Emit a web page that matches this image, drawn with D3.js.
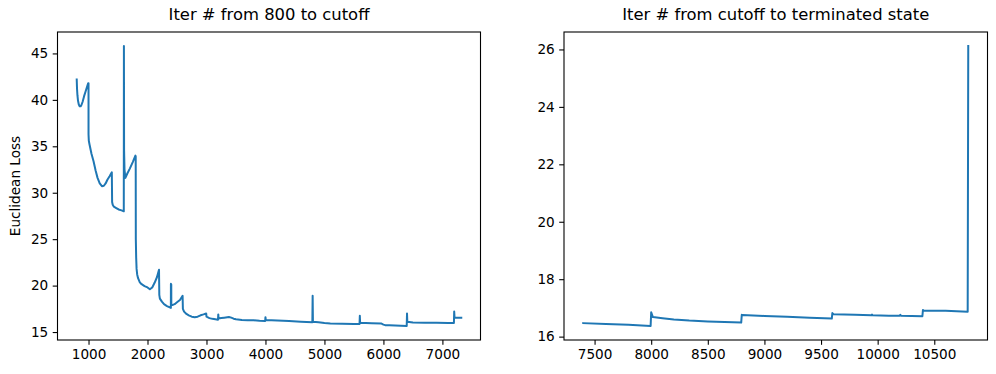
<!DOCTYPE html>
<html>
<head>
<meta charset="utf-8">
<script src="https://cdn.jsdelivr.net/npm/d3@7"></script>
<style>
  html, body { margin: 0; padding: 0; background: #fff; }
  svg { display: block; }
  text { font-family: "DejaVu Sans", sans-serif; fill: #000; }
</style>
</head>
<body>
<svg id="chart" width="996" height="374"></svg>
<script>
// ---------- DATA ----------
const titleLeft = "Iter # from 800 to cutoff";
const titleRight = "Iter # from cutoff to terminated state";
const yLabelLeft = "Euclidean Loss";

const iterLeft = [800, 805, 812, 822, 835, 850, 865, 880, 900, 925, 950, 975, 995, 1000,
  1000, 1005, 1017, 1050, 1085, 1120, 1153, 1190, 1227, 1260, 1290, 1320, 1360, 1395,
  1400, 1410, 1430, 1470, 1510, 1560, 1598,
  1600, 1603, 1610, 1625, 1660, 1700, 1750, 1795,
  1800, 1802, 1808, 1815, 1825, 1840, 1870, 1900, 1950, 2000, 2040, 2080, 2120, 2160, 2195,
  2200, 2210, 2244, 2280, 2330, 2396, 2397, 2403, 2404, 2420, 2460, 2500, 2550, 2595,
  2600, 2620, 2660, 2700, 2750, 2800, 2850, 2900, 2950, 2995,
  3000, 3050, 3100, 3150, 3195, 3200, 3205, 3250, 3300, 3380, 3420, 3460, 3500, 3600, 3700, 3800, 3900, 3995,
  4000, 4005, 4200, 4400, 4600, 4795, 4800, 4805, 4900, 5000, 5100, 5300, 5500, 5595,
  5600, 5605, 5700, 5800, 5960, 6000, 6030, 6100, 6200, 6395,
  6400, 6405, 6500, 6700, 6900, 7100, 7195, 7200, 7205, 7220, 7320];
const lossLeft = [42.2, 41.2, 40.5, 39.9, 39.5, 39.3, 39.3, 39.45, 39.8, 40.4, 40.9, 41.4, 41.8, 41.8,
  36.3, 35.6, 35.2, 34.2, 33.4, 32.4, 31.6, 31.0, 30.7, 30.75, 31.0, 31.4, 31.8, 32.2,
  29.0, 28.7, 28.5, 28.35, 28.2, 28.1, 28.0,
  45.8, 34.6, 32.5, 31.6, 32.1, 32.6, 33.3, 34.0,
  33.9, 25.0, 23.0, 21.8, 21.2, 20.8, 20.35, 20.15, 19.95, 19.8, 19.6, 19.8, 20.3, 20.9, 21.7,
  19.0, 18.6, 18.27, 18.0, 17.8, 17.6, 20.2, 20.1, 17.9, 17.9, 18.0, 18.2, 18.45, 18.9,
  17.5, 17.2, 16.95, 16.8, 16.65, 16.6, 16.65, 16.8, 16.9, 17.0,
  16.65, 16.5, 16.42, 16.37, 16.33, 16.9, 16.45, 16.5, 16.55, 16.62, 16.55, 16.44, 16.38, 16.3, 16.28, 16.27, 16.22, 16.19,
  16.6, 16.3, 16.25, 16.18, 16.12, 16.06, 18.9, 16.1, 16.05, 15.97, 15.93, 15.9, 15.87, 15.86,
  16.75, 16.0, 15.97, 15.95, 15.93, 15.8, 15.74, 15.72, 15.7, 15.65,
  17.0, 16.1, 16.02, 16.0, 15.99, 15.98, 15.97, 17.2, 16.6, 16.55, 16.54];

const iterRight = [7400, 7600, 7800, 7995, 8000, 8015, 8100, 8200, 8336, 8500, 8795,
  8800, 8805, 9000, 9200, 9400, 9595, 9600, 9610, 9800, 9945, 9950, 9955, 10100, 10195, 10200, 10205, 10395,
  10400, 10405, 10600, 10795, 10800];
const lossRight = [16.47, 16.44, 16.41, 16.37, 16.85, 16.68, 16.64, 16.6, 16.56, 16.53, 16.49,
  16.76, 16.75, 16.72, 16.69, 16.66, 16.63, 16.82, 16.78, 16.76, 16.74, 16.77, 16.74, 16.73, 16.73, 16.76, 16.73, 16.71,
  16.93, 16.91, 16.9, 16.87, 26.12];

const xTicksLeft = [1000, 2000, 3000, 4000, 5000, 6000, 7000];
const yTicksLeft = [15, 20, 25, 30, 35, 40, 45];
const xTicksRight = [7500, 8000, 8500, 9000, 9500, 10000, 10500];
const yTicksRight = [16, 18, 20, 22, 24, 26];

// ---------- DRAW ----------
const svg = d3.select("#chart");
const lineColor = "#1f77b4";
const tickFont = 13.6;

function padDomain(ext) {
  const r = ext[1] - ext[0];
  return [ext[0] - 0.05 * r, ext[1] + 0.05 * r];
}

function panel(box, xs, ys, xTicks, yTicks, title, ylabel) {
  const x = d3.scaleLinear().domain(padDomain(d3.extent(xs))).range([box.x0, box.x1]);
  const y = d3.scaleLinear().domain(padDomain(d3.extent(ys))).range([box.y1, box.y0]);
  const g = svg.append("g");

  const pts = xs.map((d, i) => [d, ys[i]]);
  g.append("path")
    .datum(pts)
    .attr("fill", "none")
    .attr("stroke", lineColor)
    .attr("stroke-width", 2)
    .attr("stroke-linejoin", "round")
    .attr("stroke-linecap", "square")
    .attr("d", d3.line().x(d => x(d[0])).y(d => y(d[1])));

  const xAxis = g.append("g")
    .attr("transform", `translate(0,${box.y1})`)
    .call(d3.axisBottom(x).tickValues(xTicks).tickFormat(d3.format("d")).tickSize(4.8).tickPadding(4.5));
  const yAxis = g.append("g")
    .attr("transform", `translate(${box.x0},0)`)
    .call(d3.axisLeft(y).tickValues(yTicks).tickFormat(d3.format("d")).tickSize(4.8).tickPadding(4.5));
  [xAxis, yAxis].forEach(a => {
    a.select(".domain").remove();
    a.selectAll("line").attr("stroke", "#000").attr("stroke-width", 1.1);
    a.selectAll("text").attr("font-size", tickFont).attr("font-family", "DejaVu Sans, sans-serif").attr("fill", "#000");
  });

  g.append("rect")
    .attr("x", box.x0).attr("y", box.y0)
    .attr("width", box.x1 - box.x0).attr("height", box.y1 - box.y0)
    .attr("fill", "none").attr("stroke", "#000").attr("stroke-width", 1.1);

  g.append("text")
    .attr("x", (box.x0 + box.x1) / 2).attr("y", 20)
    .attr("text-anchor", "middle")
    .attr("font-size", 16.4)
    .text(title);

  if (ylabel) {
    g.append("text")
      .attr("transform", `translate(${box.x0 - 38},${(box.y0 + box.y1) / 2}) rotate(-90)`)
      .attr("text-anchor", "middle")
      .attr("font-size", 13.6)
      .text(ylabel);
  }
}

panel({x0: 57.5, x1: 480.5, y0: 32, y1: 340}, iterLeft, lossLeft, xTicksLeft, yTicksLeft, titleLeft, yLabelLeft);
panel({x0: 564, x1: 987.5, y0: 32, y1: 340}, iterRight, lossRight, xTicksRight, yTicksRight, titleRight, null);
</script>
</body>
</html>
